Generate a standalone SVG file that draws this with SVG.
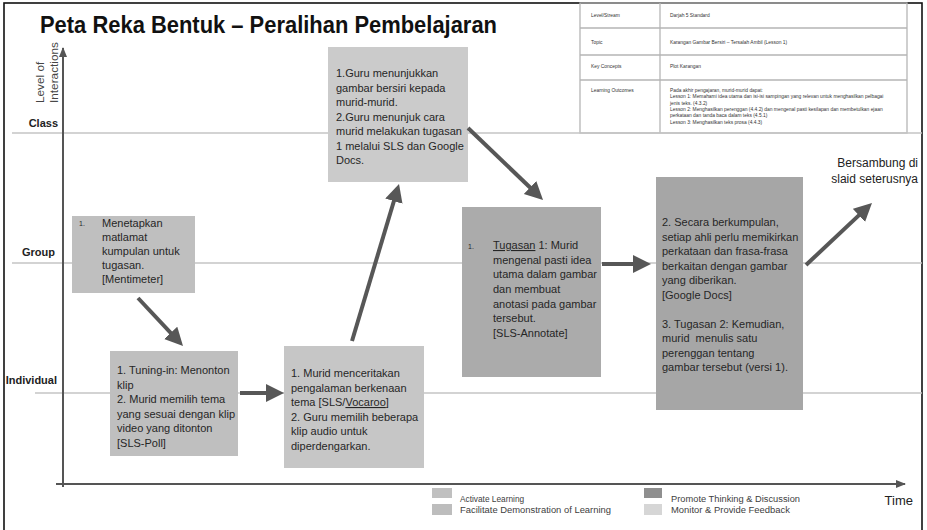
<svg xmlns="http://www.w3.org/2000/svg" width="927" height="530" viewBox="0 0 927 530">
<style>
.bt{font-family:"Liberation Sans",Arial,sans-serif;font-size:11px;fill:#262626}
.num{font-family:"Liberation Sans",Arial,sans-serif;font-size:7px;fill:#262626}
.tb{font-family:"Liberation Sans",Arial,sans-serif;font-size:4.9px;fill:#333}
.tbl{fill:none;stroke:#b5b5b5;stroke-width:1.3}
.lvl{stroke:#c4c4c4;stroke-width:1.5;fill:none}
.lab{font-family:"Liberation Sans",Arial,sans-serif;font-weight:bold;font-size:11px;fill:#222}
.ax{stroke:#555;stroke-width:2;fill:none}
.con{stroke:#575757;stroke-width:4;fill:none;marker-end:url(#ah)}
.lg{font-family:"Liberation Sans",Arial,sans-serif;font-size:8.3px;fill:#404040}
.u{text-decoration:underline}
</style>
<defs>
<marker id="ah" markerUnits="userSpaceOnUse" markerWidth="20" markerHeight="20" refX="12" refY="9" orient="auto">
<path d="M0,0 L18,9 L0,18 z" fill="#575757"/>
</marker>
<marker id="axh" markerUnits="userSpaceOnUse" markerWidth="12" markerHeight="10" refX="9" refY="4" orient="auto">
<path d="M0,0 L10,4 L0,8 z" fill="#555"/>
</marker>
</defs>
<rect x="0" y="0" width="927" height="530" fill="#fff"/>
<rect x="4" y="3" width="918" height="540" fill="none" stroke="#111" stroke-width="1.6"/>

<text x="40" y="33" font-family="'Liberation Sans',Arial,sans-serif" font-weight="bold" font-size="23" fill="#111" textLength="457" lengthAdjust="spacingAndGlyphs">Peta Reka Bentuk – Peralihan Pembelajaran</text>

<g id="table">
<rect class="tbl" x="580" y="3" width="327" height="130"/>
<line class="tbl" x1="660" y1="3" x2="660" y2="133"/>
<line class="tbl" x1="580" y1="28" x2="907" y2="28"/>
<line class="tbl" x1="580" y1="55" x2="907" y2="55"/>
<line class="tbl" x1="580" y1="80" x2="907" y2="80"/>
<text class="tb" x="591" y="17">Level/Stream</text>
<text class="tb" x="670" y="17">Darjah 5 Standard</text>
<text class="tb" x="591" y="44">Topic</text>
<text class="tb" x="670" y="44">Karangan Gambar Bersiri – Tersalah Ambil  (Lesson 1)</text>
<text class="tb" x="591" y="68">Key Concepts</text>
<text class="tb" x="670" y="68">Plot Karangan</text>
<text class="tb" x="591" y="92">Learning Outcomes</text>
<text class="tb" x="670" y="92">Pada akhir pengajaran, murid-murid dapat:</text>
<text class="tb" x="670" y="98">Lesson 1: Memahami idea utama dan isi-isi sampingan yang relevan untuk menghasilkan pelbagai</text>
<text class="tb" x="670" y="104.5">jenis teks. (4.3.2)</text>
<text class="tb" x="670" y="111">Lesson 2: Menghasilkan perenggan (4.4.2) dan mengenal pasti kesilapan dan membetulkan ejaan</text>
<text class="tb" x="670" y="117">perkataan dan tanda baca dalam teks (4.5.1)</text>
<text class="tb" x="670" y="123.5">Lesson 3: Menghasilkan teks prosa (4.4.3)</text>
</g>

<g id="levels">
<line class="lvl" x1="12" y1="133" x2="922" y2="133"/>
<line class="lvl" x1="12" y1="263" x2="922" y2="263"/>
<line class="lvl" x1="35" y1="393" x2="922" y2="393"/>
<text class="lab" x="58" y="127" text-anchor="end">Class</text>
<text class="lab" x="55" y="256" text-anchor="end" font-size="11.5">Group</text>
<text class="lab" x="57" y="384" text-anchor="end" font-size="11.5">Individual</text>
<text font-family="'Liberation Sans',Arial,sans-serif" font-size="11.8" fill="#444" transform="translate(44,103) rotate(-90)">Level of</text>
<text font-family="'Liberation Sans',Arial,sans-serif" font-size="11.8" fill="#444" transform="translate(58,103) rotate(-90)">Interactions</text>
</g>

<g id="axes">
<line class="ax" x1="63" y1="487" x2="63" y2="48" marker-end="url(#axh)"/>
<line class="ax" x1="56" y1="484" x2="905" y2="484" marker-end="url(#axh)"/>
<text x="913" y="505" text-anchor="end" font-family="'Liberation Sans',Arial,sans-serif" font-size="13" fill="#222">Time</text>
</g>

<g id="node-goal">
<rect x="72" y="216" width="123" height="77" fill="#bfbfbf"/>
<text class="num" x="79" y="226">1.</text>
<text class="bt" x="102" y="226.5">Menetapkan</text>
<text class="bt" x="102" y="240.6">matlamat</text>
<text class="bt" x="102" y="254.7">kumpulan untuk</text>
<text class="bt" x="102" y="268.8">tugasan.</text>
<text class="bt" x="102" y="283">[Mentimeter]</text>
</g>

<g id="node-tuning">
<rect x="110" y="351" width="128" height="105" fill="#bfbfbf"/>
<text class="bt" x="117" y="374">1. Tuning-in: Menonton</text>
<text class="bt" x="117" y="388.5">klip</text>
<text class="bt" x="117" y="403">2. Murid memilih tema</text>
<text class="bt" x="117" y="417.5">yang sesuai dengan klip</text>
<text class="bt" x="117" y="432">video yang ditonton</text>
<text class="bt" x="117" y="446.5">[SLS-Poll]</text>
</g>

<g id="node-cerita">
<rect x="284" y="346" width="140" height="122" fill="#c6c6c6"/>
<text class="bt" x="291" y="377">1. Murid menceritakan</text>
<text class="bt" x="291" y="391.5">pengalaman berkenaan</text>
<text class="bt" x="291" y="406">tema [SLS/<tspan class="u">Vocaroo</tspan>]</text>
<text class="bt" x="291" y="420.5">2. Guru memilih beberapa</text>
<text class="bt" x="291" y="435">klip audio untuk</text>
<text class="bt" x="291" y="449.5">diperdengarkan.</text>
</g>

<g id="node-guru">
<rect x="328" y="47" width="140" height="135" fill="#cbcbcb"/>
<text class="bt" x="336" y="77">1.Guru menunjukkan</text>
<text class="bt" x="336" y="91.5">gambar bersiri kepada</text>
<text class="bt" x="336" y="106">murid-murid.</text>
<text class="bt" x="336" y="120.5">2.Guru menunjuk cara</text>
<text class="bt" x="336" y="135">murid melakukan tugasan</text>
<text class="bt" x="336" y="149.5">1 melalui SLS dan Google</text>
<text class="bt" x="336" y="164">Docs.</text>
</g>

<g id="node-tugasan1">
<rect x="462" y="207" width="139" height="170" fill="#ababab"/>
<text class="num" x="468" y="249">1.</text>
<text class="bt" x="493" y="249"><tspan class="u">Tugasan</tspan> 1: Murid</text>
<text class="bt" x="493" y="263.7">mengenal pasti idea</text>
<text class="bt" x="493" y="278.3">utama dalam gambar</text>
<text class="bt" x="493" y="293">dan membuat</text>
<text class="bt" x="493" y="307.7">anotasi pada gambar</text>
<text class="bt" x="493" y="322.3">tersebut.</text>
<text class="bt" x="493" y="337">[SLS-Annotate]</text>
</g>

<g id="node-kumpulan">
<rect x="656" y="177" width="147" height="233" fill="#a6a6a6"/>
<text class="bt" x="662" y="226">2. Secara berkumpulan,</text>
<text class="bt" x="662" y="240.5">setiap ahli perlu memikirkan</text>
<text class="bt" x="662" y="255">perkataan dan frasa-frasa</text>
<text class="bt" x="662" y="269.5">berkaitan dengan gambar</text>
<text class="bt" x="662" y="284">yang diberikan.</text>
<text class="bt" x="662" y="298.5">[Google Docs]</text>
<text class="bt" x="662" y="327.5">3. Tugasan 2: Kemudian,</text>
<text class="bt" x="662" y="342" xml:space="preserve">murid  menulis satu</text>
<text class="bt" x="662" y="356.5">perenggan tentang</text>
<text class="bt" x="662" y="371">gambar tersebut (versi 1).</text>
</g>

<g id="node-next">
<text x="918" y="167" text-anchor="end" font-family="'Liberation Sans',Arial,sans-serif" font-size="12" fill="#222">Bersambung di</text>
<text x="918" y="183" text-anchor="end" font-family="'Liberation Sans',Arial,sans-serif" font-size="12" fill="#222">slaid seterusnya</text>
</g>

<g id="connectors">
<line class="con" x1="138" y1="298" x2="178.9" y2="341.6"/>
<line class="con" x1="240" y1="393" x2="278" y2="393"/>
<line class="con" x1="352" y1="341" x2="397.3" y2="189.7"/>
<line class="con" x1="468" y1="128" x2="538.7" y2="195.8"/>
<line class="con" x1="602" y1="264" x2="645" y2="264"/>
<line class="con" x1="806" y1="265" x2="867.6" y2="207.1"/>
</g>

<g id="legend">
<rect x="432" y="488" width="20" height="10" fill="#c0c0c0"/>
<rect x="432" y="504" width="20" height="11" fill="#bdbdbd"/>
<rect x="644" y="488" width="18" height="10" fill="#8f8f8f"/>
<rect x="644" y="504" width="18" height="11" fill="#d6d6d6"/>
<text class="lg" x="460" y="502">Activate Learning</text>
<text class="lg" x="460" y="513" textLength="151" lengthAdjust="spacingAndGlyphs">Facilitate Demonstration of Learning</text>
<text class="lg" x="671" y="502" textLength="129" lengthAdjust="spacingAndGlyphs">Promote Thinking &amp; Discussion</text>
<text class="lg" x="671" y="513" textLength="119" lengthAdjust="spacingAndGlyphs">Monitor &amp; Provide Feedback</text>
</g>
</svg>
